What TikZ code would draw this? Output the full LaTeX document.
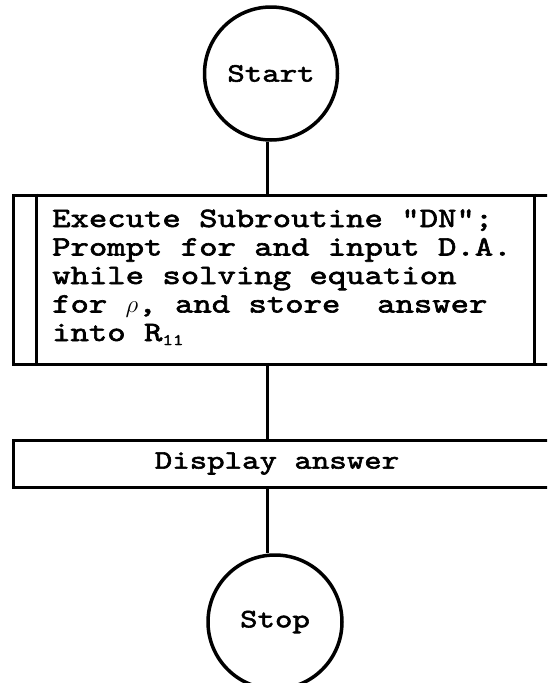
\documentclass[tikz,border=0pt]{standalone}
\usepackage{fontspec}
\newfontfamily\flowfont{lmmono10-regular}[Extension=.otf, FakeStretch=1.25, FakeBold=2.2]
\usetikzlibrary{calc}
\tikzset{
	terminal style/.style={
		draw,
		circle,
		line width=3.5pt,
		inner sep=0pt,
		font=\flowfont\fontsize{26.6}{28}\selectfont
	},
	process style/.style={
		draw,
		rectangle,
		line width=3pt,
		inner sep=0pt
	},
	flow line style/.style={
		line width=3pt
	},
	box text style/.style={
		inner sep=0pt,
		font=\flowfont\fontsize{28}{28.5}\selectfont
	},
	label text style/.style={
		inner sep=0pt,
		font=\flowfont\fontsize{26.6}{28}\selectfont
	}
}

\begin{document}
\begin{tikzpicture}[x=1pt, y=-1pt]
		
		% --- 1. Page frame ---
		\useasboundingbox (0,0) rectangle (547,683);
		\clip (0,0) rectangle (547,683);
		\coordinate (spine) at (267,0);
		
		% --- 2. Start terminal ---
		\node[terminal style, minimum size=133pt] (start) at (271,73.5) {Start};
		
		% --- 3. Subroutine call box (double side bars) ---
		\node[process style, minimum width=547pt, minimum height=169pt] (sub) at (286.5,279.5) {};
		\draw[flow line style] ($(sub.north west)+(25,0)$) -- ($(sub.south west)+(25,0)$);
		\draw[flow line style] ($(sub.north east)+(-27,0)$) -- ($(sub.south east)+(-27,0)$);
		\node[box text style, anchor=base west] (subtext) at (52,227) {%
			\parbox[t]{470pt}{\raggedright
				Execute Subroutine "DN";\\
				Prompt for and input D.A.\\
				while solving equation\\
				for $\rho$, and store\ \ answer\\
				into R\raisebox{-4pt}{\fontsize{16}{16}\selectfont 11}}};
		
		% --- 4. Output box ---
		\node[process style, minimum width=547pt, minimum height=47pt] (disp) at (286.5,463.5) {};
		\node[label text style] (disptext) at (277,463.5) {Display answer};
		
		% --- 5. Stop terminal ---
		\node[terminal style, minimum size=134pt] (stop) at (275,622) {Stop};
		
		% --- 6. Flow lines ---
		\draw[flow line style] (start.south -| spine) -- (sub.north -| spine);
		\draw[flow line style] (sub.south -| spine) -- (disp.north -| spine);
		\draw[flow line style] (disp.south -| spine) -- (stop.north -| spine);
		
	\end{tikzpicture}
\end{document}
